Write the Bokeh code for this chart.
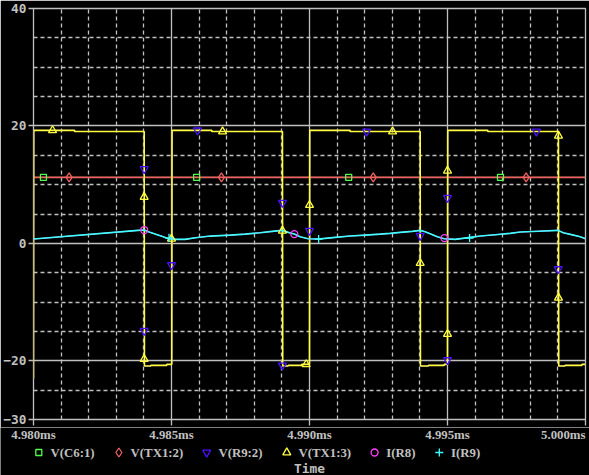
from bokeh.plotting import figure
from bokeh.layouts import column
from bokeh.models import Range1d, FixedTicker, CustomJSTickFormatter, Label
from bokeh.embed import file_html
from bokeh.resources import INLINE

# ---------------- data (time in ms, values as plotted on the shared axis) -------------
X_MAJOR = [4.980, 4.985, 4.990, 4.995, 5.000]
X_MINOR = [4.981, 4.982, 4.983, 4.984, 4.986, 4.987, 4.988, 4.989, 4.991, 4.992,
           4.993, 4.994, 4.996, 4.997, 4.998, 4.999]
X_LABELS = ["4.980ms", "4.985ms", "4.990ms", "4.995ms", "5.000ms"]
Y_MAJOR = [-30, -20, 0, 20, 40]
Y_MINOR = [-25, -15, -10, -5, 5, 10, 15, 25, 30, 35]

# V(TX1:3) square wave
T_TX13 = [4.98000, 4.98001, 4.98149, 4.98149, 4.98401, 4.98402, 4.98425, 4.98425, 4.98483, 4.98483,
          4.98501, 4.98502, 4.98646, 4.98646, 4.98902, 4.98903, 4.98923, 4.98923, 4.98972, 4.98972,
          4.99000, 4.99001, 4.99147, 4.99147, 4.99401, 4.99402, 4.99431, 4.99431, 4.99488, 4.99488,
          4.99500, 4.99501, 4.99646, 4.99646, 4.99902, 4.99903, 4.99926, 4.99926, 4.99987, 4.99987,
          5.00000]
V_TX13 = [-23.0, 19.25, 19.25, 19.05, 19.05, -20.90, -20.90, -20.78, -20.78, -20.61,
          -20.61, 19.25, 19.25, 19.05, 19.05, -20.90, -20.90, -20.78, -20.78, -20.61,
          -20.61, 19.25, 19.25, 19.05, 19.05, -20.90, -20.90, -20.78, -20.78, -20.61,
          -20.61, 19.25, 19.25, 19.05, 19.05, -20.90, -20.90, -20.78, -20.78, -20.61,
          -20.61]
# V(R9:2) coincides with V(TX1:3) (hidden beneath it)
T_R92 = list(T_TX13)
V_R92 = list(V_TX13)

# V(C6:1) and V(TX1:2): flat at the same level (C6:1 hidden beneath TX1:2)
T_FLAT = [4.980, 5.000]
V_C61 = [11.24, 11.24]
V_TX12 = [11.24, 11.24]

# I(R9) (I(R8) coincides, hidden beneath it)
T_IR9 = [4.98000, 4.98379, 4.98401, 4.98416, 4.98470, 4.98488, 4.98513, 4.98549, 4.98586, 4.98641,
         4.98713, 4.98767, 4.98821, 4.98865, 4.98901, 4.98923, 4.98945, 4.98966, 4.98995, 4.99032,
         4.99057, 4.99093, 4.99147, 4.99202, 4.99256, 4.99292, 4.99329, 4.99372, 4.99401, 4.99419,
         4.99437, 4.99463, 4.99488, 4.99528, 4.99582, 4.99619, 4.99673, 4.99727, 4.99764, 4.99830,
         4.99901, 4.99919, 4.99945, 4.99981, 5.00000]
V_IR9 = [0.73, 2.21, 2.27, 1.98, 1.12, 0.78, 0.68, 0.68, 0.95, 1.24,
         1.41, 1.58, 1.81, 2.04, 2.21, 1.87, 1.58, 1.12, 0.78, 0.73,
         0.85, 1.02, 1.24, 1.41, 1.58, 1.70, 1.87, 2.04, 2.21, 1.98,
         1.64, 1.12, 0.78, 0.68, 1.02, 1.24, 1.47, 1.70, 1.93, 2.07,
         2.21, 1.81, 1.53, 1.12, 0.78]
T_IR8 = list(T_IR9)
V_IR8 = list(V_IR9)

# marker positions of each trace
MT_C61 = [4.98036, 4.98591, 4.99142, 4.99692]
MV_C61 = [11.24, 11.24, 11.24, 11.24]
MT_TX12 = [4.98129, 4.98681, 4.99231, 4.99785]
MV_TX12 = [11.24, 11.24, 11.24, 11.24]
MT_R92 = [4.98401, 4.98401, 4.98500, 4.98594, 4.98902, 4.98902, 4.99000, 4.99207, 4.99401,
          4.99500, 4.99500, 4.99822, 4.99901]
MV_R92 = [12.66, -14.89, -3.70, 19.25, 6.92, -20.78, 2.15, 19.05, 1.29,
          7.77, -19.88, 19.05, -4.38]
MT_TX13 = [4.98069, 4.98401, 4.98401, 4.98500, 4.98685, 4.98902, 4.98988, 4.99000, 4.99301,
           4.99401, 4.99500, 4.99500, 4.99902, 4.99902]
MV_TX13 = [19.25, 7.89, -19.71, 0.78, 19.05, 2.15, -20.61, 6.52, 19.05,
           -3.36, 12.37, -15.45, 18.33, -9.27]
MT_IR8 = [4.98401, 4.98945, 4.99489]
MV_IR8 = [2.27, 1.58, 0.90]
MT_IR9 = [4.98491, 4.99033, 4.99580]
MV_IR9 = [0.95, 0.73, 0.90]

LABELS = ["V(C6:1)", "V(TX1:2)", "V(R9:2)", "V(TX1:3)", "I(R8)", "I(R9)"]
X_TITLE = "Time"

# ---------------- style / layout -------------
BG = "black"
GRAY = "#c0c0c0"
FONT = "DejaVu Sans Mono"
FS = "12.8px"
CHAR_W = 7.7
C_GREEN = "#50ff50"
C_RED = "#f06060"
C_BLUE = "#4a10ff"
C_YELLOW = "#ffff40"
C_MAG = "#ff40ff"
C_CYAN = "#40ffff"

W = 589
LEFT, RIGHT, TOP, TICK = 33, 4, 8, 6
FRAME_H = 411
MAIN_H = 427
STRIP_H = 475 - MAIN_H
X0, X1 = X_MAJOR[0], X_MAJOR[-1]
Y0, Y1 = -30, 40

p = figure(width=W, height=MAIN_H, output_backend="svg", toolbar_location=None,
           x_range=Range1d(X0, X1), y_range=Range1d(Y0, Y1),
           min_border_left=LEFT, min_border_right=RIGHT, min_border_top=TOP,
           min_border_bottom=MAIN_H - TOP - FRAME_H,
           background_fill_color=BG, border_fill_color=BG,
           outline_line_color=GRAY, outline_line_width=1.3)
p.frame_align = False

xt = FixedTicker(ticks=X_MAJOR, minor_ticks=X_MINOR)
yt = FixedTicker(ticks=Y_MAJOR, minor_ticks=Y_MINOR)
p.xaxis.ticker = xt
p.yaxis.ticker = yt
p.xgrid.ticker = xt
p.ygrid.ticker = yt
# x tick labels are drawn in the strip below (the last one is right-aligned)
p.xaxis.formatter = CustomJSTickFormatter(code="return '';")
p.xaxis.major_label_text_font_size = "0px"
p.xaxis.major_label_standoff = 0

for ax in (p.xaxis[0], p.yaxis[0]):
    ax.axis_line_color = None
    ax.major_tick_line_color = GRAY
    ax.major_tick_line_width = 1.3
    ax.major_tick_in = 0
    ax.minor_tick_in = 0
    ax.minor_tick_out = 0
p.yaxis.major_label_text_font = FONT
p.yaxis.major_label_text_font_size = FS
p.yaxis.major_label_text_font_style = "bold"
p.yaxis.major_label_text_color = GRAY
p.yaxis.major_tick_out = 5
p.yaxis.major_label_standoff = 2
p.xaxis.major_tick_out = TICK

for g in (p.xgrid[0], p.ygrid[0]):
    g.grid_line_color = GRAY
    g.grid_line_width = 1.3
    g.minor_grid_line_color = GRAY
    g.minor_grid_line_width = 1.3
    g.minor_grid_line_dash = "4 3"

# traces (drawing order: later on top)
p.line(T_FLAT, V_C61, line_color=C_GREEN, line_width=1)
p.line(T_FLAT, V_TX12, line_color=C_RED, line_width=1.6)
p.line(T_R92, V_R92, line_color=C_BLUE, line_width=1)
p.line(T_TX13, V_TX13, line_color=C_YELLOW, line_width=1.6)
p.line(T_IR8, V_IR8, line_color=C_MAG, line_width=1)
p.line(T_IR9, V_IR9, line_color=C_CYAN, line_width=1.6)

MARKERS = [("square", 6, C_GREEN, MT_C61, MV_C61),
           ("diamond", 9, C_RED, MT_TX12, MV_TX12),
           ("inverted_triangle", 8, C_BLUE, MT_R92, MV_R92),
           ("triangle", 8, C_YELLOW, MT_TX13, MV_TX13),
           ("circle", 7, C_MAG, MT_IR8, MV_IR8),
           ("cross", 8, C_CYAN, MT_IR9, MV_IR9)]
for m, s, c, xs, ys in MARKERS:
    p.scatter(xs, ys, marker=m, size=s, line_color=c, fill_color=None, line_width=1.3)

# ---------------- strip: x tick labels, legend, x title -------------
q = figure(width=W, height=STRIP_H, output_backend="svg", toolbar_location=None,
           x_range=Range1d(0, W), y_range=Range1d(STRIP_H, 0),
           x_axis_type=None, y_axis_type=None, min_border=0,
           background_fill_color=BG, border_fill_color=BG, outline_line_color=None)
q.frame_align = False
q.xgrid.visible = False
q.ygrid.visible = False
# time axis spanning the full strip width, aligned with the main frame
ms_per_px = (X1 - X0) / (W - LEFT - RIGHT)
q.extra_x_ranges = {"time": Range1d(X0 - LEFT * ms_per_px, X1 + RIGHT * ms_per_px)}

txt = dict(text_font=FONT, text_font_size=FS, text_font_style="bold", text_color=GRAY,
           text_baseline="middle")
TICK_Y = 7.5
q.text(X_MAJOR[:-1], [TICK_Y] * (len(X_MAJOR) - 1), text=X_LABELS[:-1],
       text_align="center", x_range_name="time", **txt)
q.text(X_MAJOR[-1:], [TICK_Y], text=X_LABELS[-1:], text_align="right",
       x_range_name="time", **txt)

LEG_Y = 25.0
mx = 38.3
for (m, s, c, _, _), lab in zip(MARKERS, LABELS):
    q.scatter([mx], [LEG_Y], marker=m, size=s, line_color=c, fill_color=None, line_width=1.3)
    q.text([mx + 11.7], [LEG_Y], text=[lab], text_align="left", **txt)
    mx += 11.7 + len(lab) * CHAR_W + 14.5

q.add_layout(Label(x=309, y=40.5, text=X_TITLE, text_align="center", **txt))

open("out.html", "w").write(file_html(column(p, q, spacing=0), INLINE))
